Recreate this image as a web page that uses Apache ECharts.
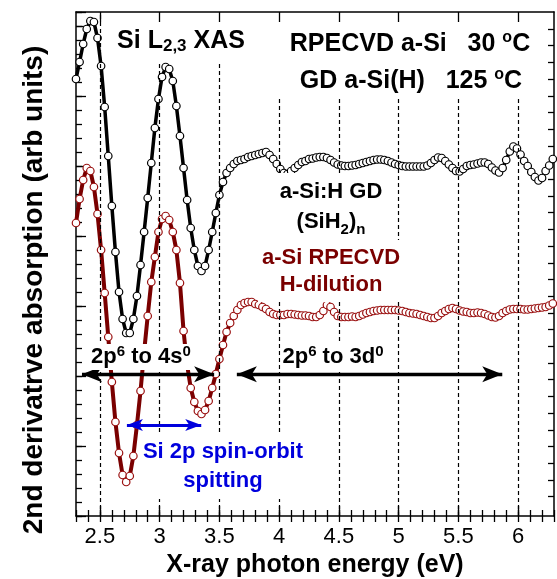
<!DOCTYPE html>
<html><head><meta charset="utf-8">
<script src="https://cdn.jsdelivr.net/npm/echarts@6/dist/echarts.min.js"></script>
<style>html,body{margin:0;padding:0;background:#fff}#c{width:557px;height:579px}</style>
</head><body><div id="c"></div>
<script>
// photon energy (eV)
const energy = [
2.30,2.33,2.36,2.39,2.42,2.45,2.48,2.51,2.54,2.57,
2.60,2.63,2.66,2.69,2.72,2.75,2.78,2.81,2.84,2.87,
2.90,2.93,2.96,2.99,3.02,3.05,3.08,3.11,3.14,3.17,
3.20,3.23,3.26,3.29,3.32,3.35,3.38,3.41,3.44,3.47,
3.50,3.53,3.56,3.59,3.62,3.65,3.68,3.71,3.74,3.77,
3.80,3.83,3.86,3.89,3.92,3.95,3.98,4.01,4.04,4.07,
4.10,4.13,4.16,4.19,4.22,4.25,4.28,4.31,4.34,4.37,
4.40,4.43,4.46,4.49,4.52,4.55,4.58,4.61,4.64,4.67,
4.70,4.73,4.76,4.79,4.82,4.85,4.88,4.91,4.94,4.97,
5.00,5.03,5.06,5.09,5.12,5.15,5.18,5.21,5.24,5.27,
5.30,5.33,5.36,5.39,5.42,5.45,5.48,5.51,5.54,5.57,
5.60,5.63,5.66,5.69,5.72,5.75,5.78,5.81,5.84,5.87,
5.90,5.93,5.96,5.99,6.02,6.05,6.08,6.11,6.14,6.17,
6.20,6.23,6.26,6.29];

// a-Si:H GD (SiH2)n  (2nd derivative, arb. units)
const gdASiH = [
437,454,472,487,495,494,478,450,409,360,
310,264,224,197,183,183,197,220,251,284,
318,353,388,417,439,449,447,435,410,380,
348,316,288,266,250,245,250,266,284,303,
321,334,343,348,352,355,356,357,359,360,
361,362,363,364,361,357,352,347,343,342,
345,348,351,354,355,357,357.5,358.5,359,359,
358,356,353.5,351.5,350.5,350,350,350.5,351,352,
353,354,355,356,356.5,356.5,356,355,353.5,352,
351,350,349.5,349.5,349.5,349.5,349.5,349.5,350.5,353,
356,358.5,358,355,351.5,348,345,344.5,347,350,
351,351.5,352.5,353.5,353.5,352,348.5,345.5,343.5,348,
356,364.5,369.5,367.5,361.5,355,350,344,339,335.5,
338,345,350.5,357];

// a-Si RPECVD H-dilution (2nd derivative, arb. units)
const rpecvdASi = [
293,317,336,348,345,329,302,266,223,179,
134,94,63,41,34,40,60,91,125,164,
200,234,259,284,297,300,296,284,266,233,
185,151,128,114,105,102,106,115,128,142,
157,171,184,193,200,206,211,213,214,214,
212,211,209,207,204,202,201,201,201,202,
202,201.5,201,200.5,200.5,200,199,199,201,205,
211,209,204,200,199,199,199,199.5,199,200,
201.5,203,204,205,205.5,206,206,206,206,206,
205.5,205,204,203,202.5,202,201,200,199,198,
198,200,203,205,207,208,207,205.5,204.5,204,
203,203,203.5,203,202,200.5,199,198.5,200,203,
205,206.5,207,207,207,206.5,206.5,207,207.5,208,
208.5,209,210.5,212.5];

const xMajorTicks = [2.5,3,3.5,4,4.5,5,5.5,6];
const xMinorTicks = [2.3,2.4,2.5,2.6,2.7,2.8,2.9,3.0,3.1,3.2,3.3,3.4,3.5,3.6,3.7,3.8,3.9,4.0,4.1,4.2,4.3,4.4,4.5,4.6,4.7,4.8,4.9,5.0,5.1,5.2,5.3,5.4,5.5,5.6,5.7,5.8,5.9,6.0,6.1,6.2,6.3];

const FONT = 'Liberation Sans, Arial, Helvetica, sans-serif';
const Y_MAX = 504;
const dashTop = [504, 454, 454, 419, 419, 419, 419, 419];
const rightTicks = [];
for (let k = 0; k <= 28; k++) rightTicks.push(487 - 16.7 * k);

const chart = echarts.init(document.getElementById('c'), null, {renderer: 'canvas'});

const baseX = {type: 'value', min: 2.3, max: 6.3, splitLine: {show: false}, axisLabel: {show: false}};
const baseY = {type: 'value', min: 0, max: Y_MAX, splitLine: {show: false}, axisLabel: {show: false}};
const tickStyle = {color: '#000', width: 1.3};
const ARW = [12, 20];
const ARW_B = [9, 16];

const option = {
  animation: false,
  backgroundColor: '#fff',
  grid: {left: 76, right: 3, top: 12, bottom: 63, containLabel: false},
  xAxis: [
    Object.assign({}, baseX, {position: 'bottom',
      axisLine: {show: true, onZero: false, lineStyle: {color: '#000', width: 1.5}},
      axisTick: {show: true, inside: true, length: 10, customValues: xMajorTicks, lineStyle: tickStyle},
      axisLabel: {show: true, customValues: xMajorTicks, fontSize: 22, color: '#000', fontFamily: FONT, margin: 10}}),
    Object.assign({}, baseX, {position: 'bottom',
      axisLine: {show: false}, axisTick: {show: true, inside: true, length: 6, customValues: xMinorTicks, lineStyle: tickStyle}}),
    Object.assign({}, baseX, {position: 'top',
      axisLine: {show: true, onZero: false, lineStyle: {color: '#000', width: 1.5}},
      axisTick: {show: true, inside: true, length: 10, customValues: xMajorTicks, lineStyle: tickStyle}}),
    Object.assign({}, baseX, {position: 'top',
      axisLine: {show: false}, axisTick: {show: true, inside: true, length: 6, customValues: xMinorTicks, lineStyle: tickStyle}})
  ],
  yAxis: [
    Object.assign({}, baseY, {position: 'left', interval: 14,
      axisLine: {show: true, onZero: false, lineStyle: {color: '#000', width: 1.5}},
      axisTick: {show: true, inside: true, length: 6, lineStyle: tickStyle}}),
    Object.assign({}, baseY, {position: 'left', interval: 70,
      axisLine: {show: false}, axisTick: {show: true, inside: true, length: 10, lineStyle: tickStyle}}),
    Object.assign({}, baseY, {position: 'right',
      axisLine: {show: true, onZero: false, lineStyle: {color: '#000', width: 1.5}},
      axisTick: {show: true, inside: true, length: 6, customValues: rightTicks, lineStyle: tickStyle}})
  ],
  series: [
    {
      type: 'line', data: [], z: 1, silent: true,
      markLine: {
        silent: true, symbol: ['none', 'none'], label: {show: false}, animation: false,
        lineStyle: {color: '#000', type: [4, 3], width: 1.2},
        data: xMajorTicks.map((v, i) => [{coord: [v, 0]}, {coord: [v, dashTop[i]]}])
      }
    },
    {
      type: 'line', name: 'a-Si RPECVD', z: 3,
      data: energy.map((e, i) => [e, rpecvdASi[i]]),
      symbol: 'circle', symbolSize: 7.5, showSymbol: true, showAllSymbol: true,
      lineStyle: {color: '#7a0000', width: 4},
      itemStyle: {color: '#fff', borderColor: '#9a1010', borderWidth: 1.2}
    },
    {
      type: 'line', name: 'a-Si:H GD', z: 3,
      data: energy.map((e, i) => [e, gdASiH[i]]),
      symbol: 'circle', symbolSize: 7.5, showSymbol: true, showAllSymbol: true,
      lineStyle: {color: '#000', width: 3.5},
      itemStyle: {color: '#fff', borderColor: '#000', borderWidth: 1.2}
    },
    {
      type: 'line', data: [], z: 4, silent: true,
      markLine: {
        silent: true, label: {show: false}, animation: false, symbol: ['arrow', 'arrow'],
        data: [
          [{coord: [2.35, 141.7], symbolSize: ARW, lineStyle: {color: '#000', width: 3.3, type: 'solid'}},
           {coord: [3.456, 141.7], symbolSize: ARW}],
          [{coord: [3.646, 141.7], symbolSize: ARW, lineStyle: {color: '#000', width: 3.3, type: 'solid'}},
           {coord: [5.867, 141.7], symbolSize: ARW}],
          [{coord: [2.726, 91], symbolSize: ARW_B, lineStyle: {color: '#0000dd', width: 3, type: 'solid'}, itemStyle: {color: '#0000dd'}},
           {coord: [3.348, 91], symbolSize: ARW_B, itemStyle: {color: '#0000dd'}}]
        ]
      }
    }
  ],
  graphic: [
    {type: 'text', x: 181, y: 41, z: 20, style: {
      text: '{a|Si L}{s|2,3}{a| XAS}', align: 'center', verticalAlign: 'middle',
      rich: {a: {fontSize: 25, fontWeight: 'bold', fontFamily: FONT, fill: '#000', lineHeight: 28},
             s: {fontSize: 17, fontWeight: 'bold', fontFamily: FONT, fill: '#000', lineHeight: 17, verticalAlign: 'bottom'}}}},
    {type: 'text', x: 410, y: 44, z: 20, style: {
      text: '{a|RPECVD a-Si   30 }{s|o}{a|C}', align: 'center', verticalAlign: 'middle',
      rich: {a: {fontSize: 25, fontWeight: 'bold', fontFamily: FONT, fill: '#000', lineHeight: 28},
             s: {fontSize: 16, fontWeight: 'bold', fontFamily: FONT, fill: '#000', lineHeight: 16, verticalAlign: 'top'}}}},
    {type: 'text', x: 411, y: 81, z: 20, style: {
      text: '{a|GD a-Si(H)   125 }{s|o}{a|C}', align: 'center', verticalAlign: 'middle',
      rich: {a: {fontSize: 25, fontWeight: 'bold', fontFamily: FONT, fill: '#000', lineHeight: 28},
             s: {fontSize: 16, fontWeight: 'bold', fontFamily: FONT, fill: '#000', lineHeight: 16, verticalAlign: 'top'}}}},
    {type: 'text', x: 331, y: 207, z: 20, style: {
      text: '{a|a-Si:H GD}\n{a|(SiH}{b|2}{a|)}{b|n}', align: 'center', verticalAlign: 'middle',
      backgroundColor: '#fff', padding: [4, 6, 4, 6],
      rich: {a: {fontSize: 22, fontWeight: 'bold', fontFamily: FONT, fill: '#000', lineHeight: 30, align: 'center'},
             b: {fontSize: 15, fontWeight: 'bold', fontFamily: FONT, fill: '#000', lineHeight: 15, verticalAlign: 'bottom'}}}},
    {type: 'text', x: 331, y: 271, z: 20, style: {
      text: '{a|a-Si RPECVD}\n{a|H-dilution}', align: 'center', verticalAlign: 'middle',
      backgroundColor: '#fff', padding: [4, 4, 4, 4],
      rich: {a: {fontSize: 22, fontWeight: 'bold', fontFamily: FONT, fill: '#7a0000', lineHeight: 27, align: 'center'}}}},
    {type: 'text', x: 141, y: 357, z: 20, style: {
      text: '{a|2p}{s|6}{a| to 4s}{s|0}', align: 'center', verticalAlign: 'middle',
      backgroundColor: '#fff', padding: [0, 2, 0, 2],
      rich: {a: {fontSize: 22, fontWeight: 'bold', fontFamily: FONT, fill: '#000', lineHeight: 26},
             s: {fontSize: 15, fontWeight: 'bold', fontFamily: FONT, fill: '#000', lineHeight: 15, verticalAlign: 'top'}}}},
    {type: 'text', x: 333, y: 357, z: 20, style: {
      text: '{a|2p}{s|6}{a| to 3d}{s|0}', align: 'center', verticalAlign: 'middle',
      backgroundColor: '#fff', padding: [0, 2, 0, 2],
      rich: {a: {fontSize: 22, fontWeight: 'bold', fontFamily: FONT, fill: '#000', lineHeight: 26},
             s: {fontSize: 15, fontWeight: 'bold', fontFamily: FONT, fill: '#000', lineHeight: 15, verticalAlign: 'top'}}}},
    {type: 'text', x: 223, y: 467, z: 20, style: {
      text: '{a|Si 2p spin-orbit}\n{a|spitting}', align: 'center', verticalAlign: 'middle',
      backgroundColor: '#fff', padding: [2, 2, 4, 2],
      rich: {a: {fontSize: 22, fontWeight: 'bold', fontFamily: FONT, fill: '#0000dd', lineHeight: 29, align: 'center'}}}},
    {type: 'text', x: 315, y: 565, z: 20, style: {
      text: 'X-ray photon energy (eV)', align: 'center', verticalAlign: 'middle',
      font: 'bold 25px ' + FONT, fill: '#000'}},
    {type: 'text', x: 34, y: 290, rotation: Math.PI / 2, z: 20, style: {
      text: '2nd derivatrve absorption (arb units)', align: 'center', verticalAlign: 'middle',
      font: 'bold 28px ' + FONT, fill: '#000'}}
  ]
};
chart.setOption(option);
</script>
</body></html>
